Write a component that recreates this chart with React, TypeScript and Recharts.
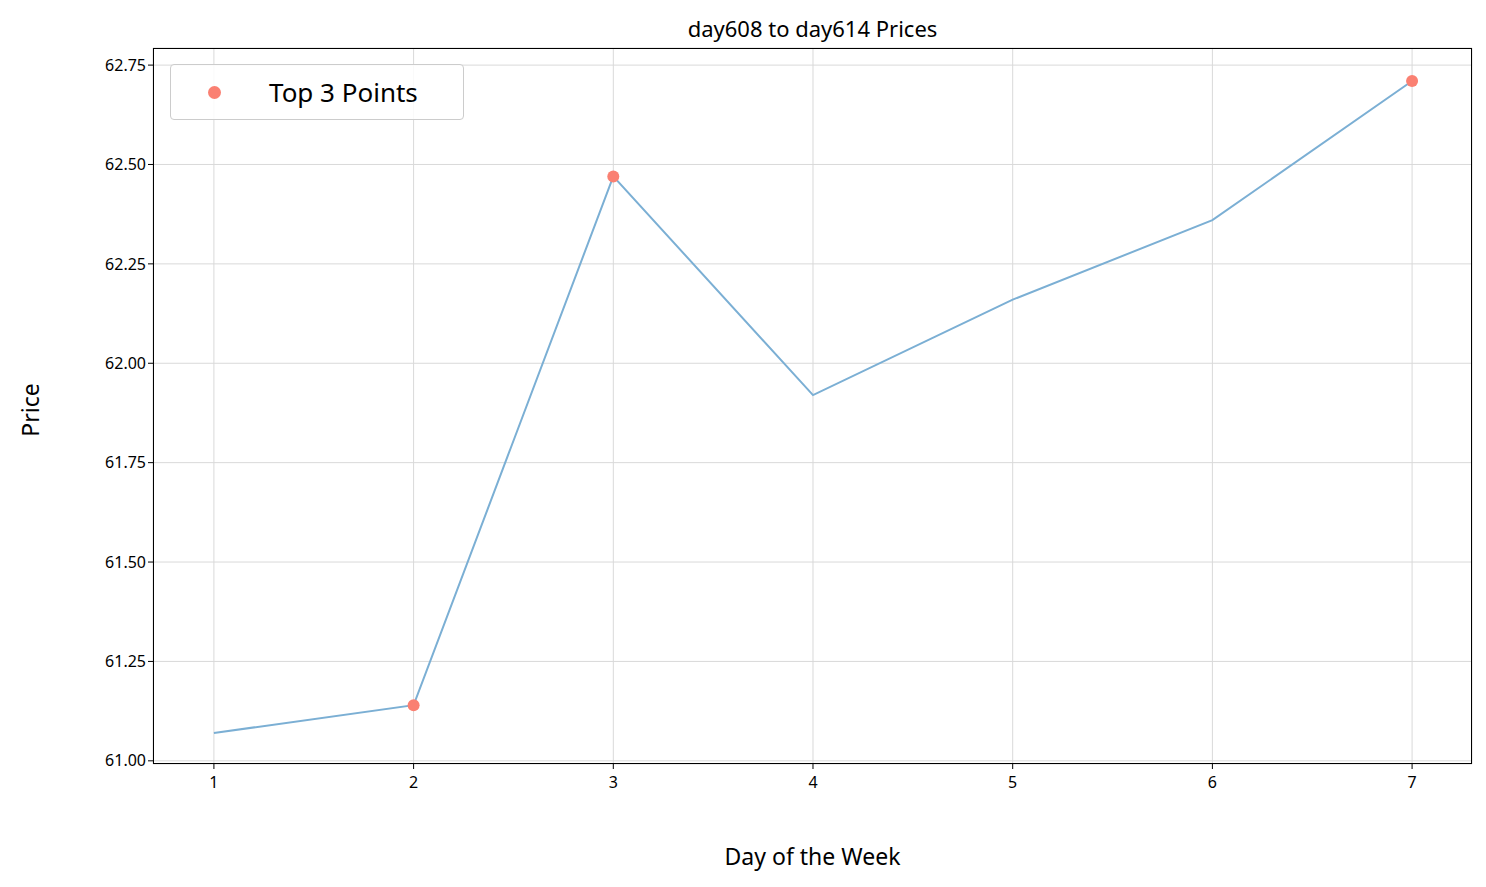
import React from "react";
import { ComposedChart, Line, XAxis, YAxis, CartesianGrid } from "recharts";

const days = [1, 2, 3, 4, 5, 6, 7];
const prices = [61.07, 61.14, 62.47, 61.92, 62.16, 62.36, 62.71];
const topDays = [2, 3, 7];
const yTicks = [61.0, 61.25, 61.5, 61.75, 62.0, 62.25, 62.5, 62.75];

const data = days.map((d, i) => ({
  day: d,
  price: prices[i],
  top: topDays.includes(d) ? prices[i] : null,
}));

const font = "'Noto Sans', sans-serif";

export default function App() {
  const W = 1478, H = 870;
  const m = { top: 40, right: 14, left: 85, bottom: 54 };
  return (
    <div style={{ position: "relative", width: W, height: H, fontFamily: font }}>
      <div style={{ position: "absolute", top: 5, left: 145, width: 1319, textAlign: "center", fontSize: 22 }}>
        day608 to day614 Prices
      </div>
      <ComposedChart width={W} height={H} data={data} margin={m}>
        <CartesianGrid stroke="#d9d9d9" strokeWidth={1} />
        <XAxis
          dataKey="day"
          type="number"
          domain={[0.695, 7.3]}
          ticks={days}
          axisLine={false}
          tickSize={5}
          tick={{ fill: "#000", fontSize: 16, fontFamily: font, dy: 6 }}
          height={60}
          stroke="#000"
          allowDataOverflow
        />
        <YAxis
          type="number"
          domain={[60.992, 62.793]}
          ticks={yTicks}
          tickFormatter={(v: number) => v.toFixed(2)}
          axisLine={false}
          tickSize={5}
          tick={{ fill: "#000", fontSize: 16, fontFamily: font }}
          width={60}
          stroke="#000"
          allowDataOverflow
        />
        <Line dataKey="price" stroke="#7bafd4" strokeWidth={2} dot={false} isAnimationActive={false} />
        <Line
          dataKey="top"
          stroke="none"
          dot={{ r: 6, fill: "#fa8072", stroke: "none" }}
          connectNulls={false}
          isAnimationActive={false}
        />
      </ComposedChart>
      <div style={{ position: "absolute", left: 145, top: 40, width: 1319, height: 716, border: "1px solid #000", boxSizing: "border-box", pointerEvents: "none" }} />
      <div style={{ position: "absolute", left: 162, top: 56, width: 294, height: 56, border: "1px solid #ccc", borderRadius: 4, background: "rgba(255,255,255,0.85)", boxSizing: "border-box", display: "flex", alignItems: "center" }}>
        <span style={{ display: "inline-block", width: 13, height: 13, borderRadius: "50%", background: "#fa8072", marginLeft: 37 }} />
        <span style={{ fontSize: 26, marginLeft: 48 }}>Top 3 Points</span>
      </div>
      <div style={{ position: "absolute", top: 832, left: 145, width: 1319, textAlign: "center", fontSize: 23 }}>Day of the Week</div>
      <div style={{ position: "absolute", left: 22, top: 402, transform: "translate(-50%,-50%) rotate(-90deg)", fontSize: 23 }}>Price</div>
    </div>
  );
}
